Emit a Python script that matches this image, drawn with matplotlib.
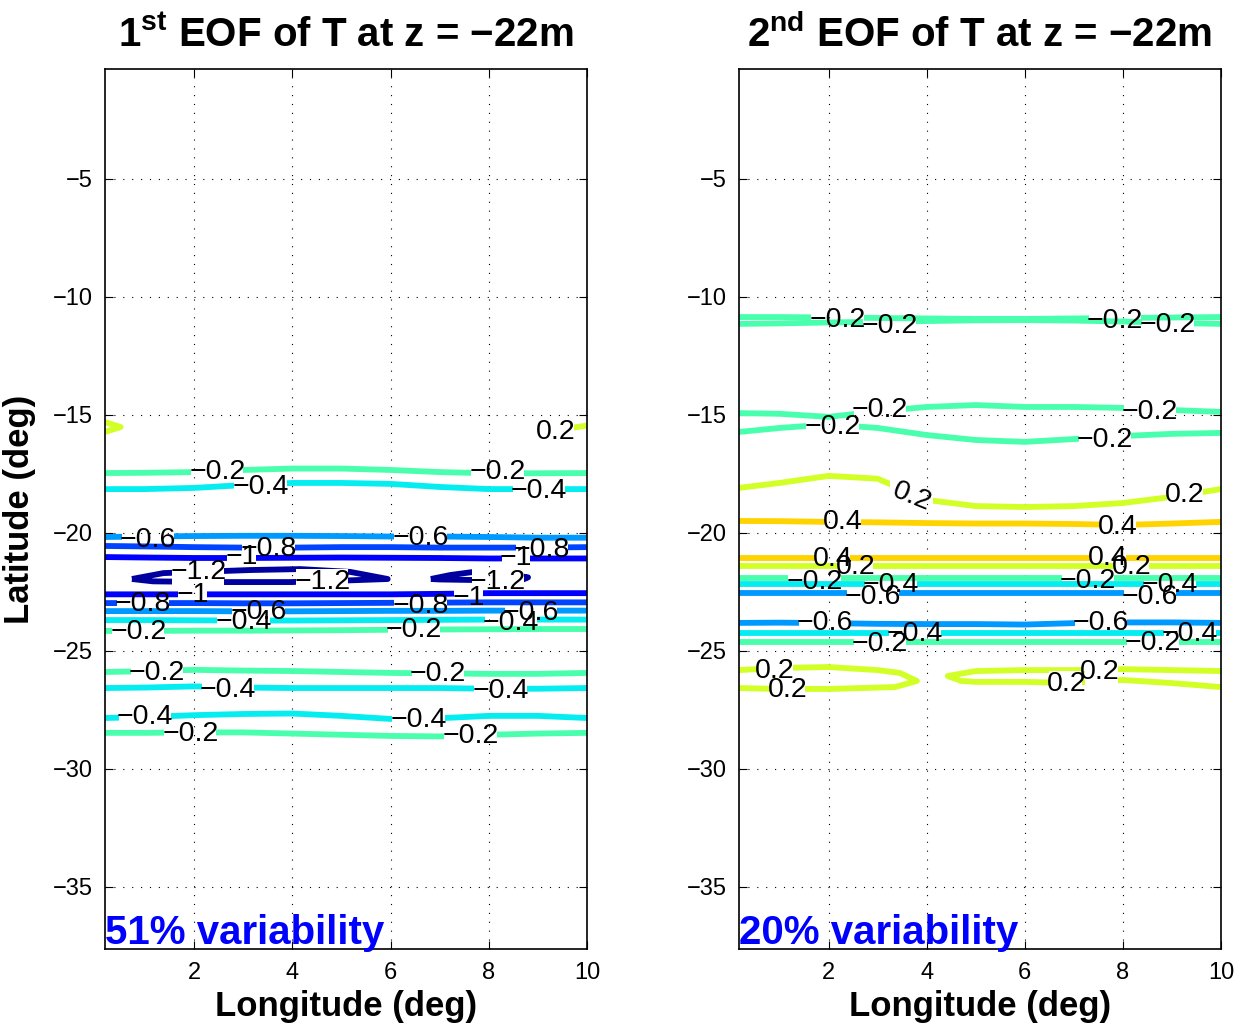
import numpy as np
import matplotlib.pyplot as plt
from matplotlib.path import Path
from matplotlib.colors import Normalize

plt.rcParams['font.family'] = ['Liberation Sans', 'DejaVu Sans']
plt.rcParams['mathtext.fontset'] = 'custom'
plt.rcParams['mathtext.rm'] = 'Liberation Sans'
plt.rcParams['mathtext.bf'] = 'Liberation Sans:bold'

# contour lines (lat at each longitude node)
lon_nodes = [0.18, 1, 2, 3, 4, 5, 6, 7, 8, 9, 10]

# ---- 1st EOF ----
eof1_levels = [-0.2, -0.4, -0.6, -0.8, -1, -1, -0.8, -0.6, -0.4, -0.2,
               -0.2, -0.4, -0.4, -0.2]
eof1_lats = [
    [-17.46, -17.45, -17.42, -17.33, -17.27, -17.27, -17.33, -17.42, -17.47, -17.47, -17.46],
    [-18.14, -18.14, -18.09, -17.97, -17.88, -17.88, -17.92, -18.05, -18.14, -18.14, -18.14],
    [-20.17, -20.15, -20.13, -20.12, -20.12, -20.13, -20.15, -20.15, -20.17, -20.20, -20.20],
    [-20.55, -20.57, -20.60, -20.62, -20.62, -20.60, -20.60, -20.62, -20.62, -20.62, -20.60],
    [-21.02, -21.04, -21.06, -21.06, -21.05, -21.04, -21.05, -21.06, -21.08, -21.08, -21.08],
    [-22.60, -22.60, -22.60, -22.60, -22.60, -22.60, -22.60, -22.58, -22.55, -22.55, -22.55],
    [-22.97, -22.97, -22.97, -22.98, -22.98, -22.97, -22.96, -22.95, -22.94, -22.94, -22.94],
    [-23.31, -23.31, -23.31, -23.32, -23.32, -23.31, -23.30, -23.30, -23.29, -23.29, -23.29],
    [-23.69, -23.69, -23.70, -23.71, -23.71, -23.70, -23.69, -23.68, -23.67, -23.67, -23.67],
    [-24.15, -24.15, -24.14, -24.14, -24.13, -24.12, -24.10, -24.09, -24.08, -24.07, -24.07],
    [-25.89, -25.86, -25.80, -25.83, -25.85, -25.89, -25.93, -25.95, -25.97, -25.97, -25.93],
    [-26.57, -26.55, -26.50, -26.55, -26.57, -26.57, -26.57, -26.57, -26.60, -26.60, -26.57],
    [-27.84, -27.80, -27.72, -27.67, -27.65, -27.75, -27.88, -27.85, -27.75, -27.75, -27.84],
    [-28.47, -28.47, -28.45, -28.45, -28.50, -28.55, -28.60, -28.62, -28.55, -28.50, -28.47],
]
# closed loops and short pieces
eof1_extra_levels = [-1.2, -1.2, 0.2, 0.2]
eof1_extra_lons = [
    [0.73, 1.37, 2.33, 3.14, 4.16, 5.18, 5.94, 5.0, 3.96, 2.5, 1.16, 0.73],
    [6.82, 7.22, 7.69, 8.18, 8.8, 8.7, 8.2, 7.6, 7.0, 6.82],
    [0.18, 0.5, 0.18],
    [9.07, 9.5, 10.0],
]
eof1_extra_lats = [
    [-21.95, -21.70, -21.63, -21.57, -21.53, -21.65, -21.95, -22.02, -22.08, -22.08, -22.05, -21.95],
    [-21.95, -21.78, -21.65, -21.69, -21.88, -21.97, -21.99, -21.99, -21.97, -21.95],
    [-15.30, -15.51, -15.72],
    [-15.64, -15.60, -15.45],
]
# labels: line index (straight lines first, then extras), position
eof1_lab_line = [17, 0, 0, 1, 1, 2, 2, 3, 3, 4, 4, 14, 14, 15, 5, 5, 6, 6, 7, 7,
                 8, 8, 9, 9, 10, 10, 11, 11, 12, 12, 13, 13]
eof1_lab_lon = [9.37, 2.47, 8.18, 3.35, 9.02, 1.06, 6.61, 3.51, 9.08, 2.96, 8.55,
                2.08, 4.61, 8.18, 1.96, 7.59, 0.96, 6.61, 3.31, 8.86, 3.0, 8.45,
                0.86, 6.47, 1.24, 6.96, 2.69, 8.24, 1.0, 6.57, 1.92, 7.63]
eof1_lab_lat = [-15.72, -17.42, -17.42, -18.05, -18.22, -20.30, -20.21, -20.68, -20.72,
                -21.02, -21.06, -21.65, -22.08, -22.08, -22.63, -22.75, -23.00, -23.09,
                -23.35, -23.39, -23.77, -23.81, -24.19, -24.11, -25.93, -25.97, -26.65,
                -26.69, -27.80, -27.92, -28.52, -28.60]
eof1_lab_rot = [0] * 32

# ---- 2nd EOF ----
eof2_levels = [-0.2, -0.2, -0.2, -0.2, 0.2, 0.4, 0.4, 0.2, -0.2, -0.4, -0.6,
               -0.6, -0.4, -0.2]
eof2_lats = [
    [-10.85, -10.85, -10.87, -10.89, -10.91, -10.93, -10.93, -10.91, -10.89, -10.87, -10.85],
    [-11.14, -11.12, -11.08, -11.05, -11.02, -10.99, -10.98, -11.00, -11.04, -11.10, -11.14],
    [-14.92, -14.95, -15.08, -14.85, -14.66, -14.58, -14.66, -14.66, -14.70, -14.79, -14.87],
    [-15.72, -15.55, -15.40, -15.55, -15.85, -16.06, -16.14, -16.02, -15.89, -15.80, -15.76],
    [-18.09, -17.88, -17.58, -17.70, -18.60, -18.86, -18.90, -18.86, -18.73, -18.47, -18.14],
    [-19.49, -19.50, -19.53, -19.55, -19.58, -19.60, -19.60, -19.62, -19.66, -19.60, -19.53],
    [-21.06, -21.06, -21.06, -21.06, -21.06, -21.06, -21.06, -21.06, -21.06, -21.06, -21.06],
    [-21.40, -21.40, -21.40, -21.40, -21.40, -21.40, -21.40, -21.40, -21.40, -21.40, -21.40],
    [-21.91, -21.91, -21.91, -21.91, -21.91, -21.91, -21.91, -21.91, -21.91, -21.91, -21.91],
    [-22.16, -22.16, -22.16, -22.16, -22.16, -22.16, -22.16, -22.16, -22.16, -22.16, -22.16],
    [-22.54, -22.54, -22.54, -22.54, -22.54, -22.54, -22.54, -22.54, -22.54, -22.54, -22.54],
    [-23.81, -23.80, -23.82, -23.85, -23.86, -23.86, -23.88, -23.82, -23.79, -23.79, -23.81],
    [-24.24, -24.24, -24.24, -24.24, -24.24, -24.24, -24.24, -24.24, -24.24, -24.24, -24.24],
    [-24.62, -24.62, -24.62, -24.62, -24.62, -24.62, -24.62, -24.62, -24.62, -24.62, -24.62],
]
eof2_extra_levels = [0.2, 0.2]
eof2_extra_lons = [
    [0.17, 1, 2, 3, 3.45, 3.8, 3.35, 2, 1, 0.17],
    [10, 9, 8, 7, 6, 5, 4.43, 4.7, 5, 6, 7, 8, 9, 10],
]
eof2_extra_lats = [
    [-25.81, -25.72, -25.68, -25.81, -25.93, -26.27, -26.53, -26.61, -26.61, -26.57],
    [-25.85, -25.81, -25.77, -25.81, -25.81, -25.85, -26.06, -26.27, -26.31, -26.31, -26.36, -26.23, -26.36, -26.53],
]
eof2_lab_line = [0, 1, 0, 1, 2, 3, 2, 3, 4, 4, 5, 5, 6, 6, 7, 7, 8, 8, 9, 9, 10, 10,
                 11, 11, 12, 12, 13, 13, 14, 14, 15, 15]
eof2_lab_lon = [2.18, 3.24, 7.84, 8.92, 3.04, 2.08, 8.55, 7.63, 3.69, 9.27, 2.29, 7.9,
                2.08, 7.69, 2.55, 8.18, 1.71, 7.29, 3.27, 8.96, 2.9, 8.55, 1.92, 7.55,
                3.76, 9.37, 3.04, 8.61, 0.9, 1.16, 7.53, 6.86]
eof2_lab_lat = [-10.97, -11.23, -11.02, -11.19, -14.79, -15.51, -14.87, -16.06, -18.47,
                -18.39, -19.53, -19.75, -21.10, -21.06, -21.44, -21.44, -22.08, -22.03,
                -22.20, -22.20, -22.71, -22.71, -23.81, -23.81, -24.28, -24.28, -24.70,
                -24.66, -25.85, -26.65, -25.89, -26.40]
eof2_lab_rot = [0] * 32
eof2_lab_rot[8] = -22

titles = [r'$\mathbf{1^{st}}$ EOF of T at z = −22m', r'$\mathbf{2^{nd}}$ EOF of T at z = −22m']
variability = ['51% variability', '20% variability']

cmap = plt.get_cmap('jet')
norm = Normalize(-1.27, 1.17)

fig = plt.figure(figsize=(12.48, 10.30), dpi=100)
ax1 = fig.add_axes([0.0841, 0.0786, 0.3862, 0.8544])
ax2 = fig.add_axes([0.5921, 0.0786, 0.3862, 0.8544])

panels = [
    (ax1, eof1_levels, eof1_lats, eof1_extra_levels, eof1_extra_lons, eof1_extra_lats,
     eof1_lab_line, eof1_lab_lon, eof1_lab_lat, eof1_lab_rot, 0.18),
    (ax2, eof2_levels, eof2_lats, eof2_extra_levels, eof2_extra_lons, eof2_extra_lats,
     eof2_lab_line, eof2_lab_lon, eof2_lab_lat, eof2_lab_rot, 0.17),
]

all_lines = []
for i, (ax, levs, lats, xlevs, xlons, xlats, lline, llon, llat, lrot, x0) in enumerate(panels):
    lons = [x0] + lon_nodes[1:]
    levels = list(levs) + list(xlevs)
    lon_list = [lons] * len(levs) + list(xlons)
    lat_list = list(lats) + list(xlats)

    lines = []
    for lev, lo, la in zip(levels, lon_list, lat_list):
        ln, = ax.plot(lo, la, color=cmap(norm(lev)), lw=4.2, solid_capstyle='butt',
                      solid_joinstyle='round', zorder=2)
        lines.append(ln)

    texts = [[] for _ in lines]
    for k, lo, la, rot in zip(lline, llon, llat, lrot):
        lab = f'{levels[k]:g}'.replace('-', '−')
        t = ax.text(lo, la, lab, fontsize=20.5, ha='center', va='center',
                    rotation=rot, zorder=4)
        texts[k].append(t)
    all_lines.append((ax, lines, texts))

    ax.set_xlim(x0, 10)
    ax.set_ylim(-37.63, -0.34)
    ax.set_xticks([2, 4, 6, 8, 10])
    ax.set_yticks([-35, -30, -25, -20, -15, -10, -5])
    ax.tick_params(direction='in', length=6, width=0.8, top=True, right=True,
                   labelsize=17, pad=9)
    ax.grid(True, color='k', linestyle=(0, (1, 7)), linewidth=0.8)
    for s in ax.spines.values():
        s.set_linewidth(1.2)
    ax.set_title(titles[i], fontsize=29, fontweight='bold', pad=16)
    ax.set_xlabel('Longitude (deg)', fontsize=25, fontweight='bold', labelpad=5)
    ax.text(0.0, 0.006, variability[i], transform=ax.transAxes, color='blue',
            fontsize=29, fontweight='bold', ha='left', va='baseline', zorder=5)

ax1.set_ylabel('Latitude (deg)', fontsize=25, fontweight='bold', labelpad=12)

# cut gaps in each contour line where its labels sit (like clabel inline)
fig.canvas.draw()
renderer = fig.canvas.get_renderer()
for ax, lines, texts in all_lines:
    inv = ax.transAxes.inverted()
    for ln, tl in zip(lines, texts):
        verts = [(0, 0), (1, 0), (1, 1), (0, 1), (0, 0)]
        codes = [Path.MOVETO, Path.LINETO, Path.LINETO, Path.LINETO, Path.CLOSEPOLY]
        for t in tl:
            bb = t.get_window_extent(renderer)
            (a0, b0), (a1, b1) = inv.transform([[bb.x0 + 2, bb.y0], [bb.x1 - 2, bb.y1]])
            verts += [(a0, b0), (a0, b1), (a1, b1), (a1, b0), (a0, b0)]
            codes += [Path.MOVETO, Path.LINETO, Path.LINETO, Path.LINETO, Path.CLOSEPOLY]
        ln.set_clip_path(Path(verts, codes), ax.transAxes)

fig.savefig('out.png', dpi=100)
